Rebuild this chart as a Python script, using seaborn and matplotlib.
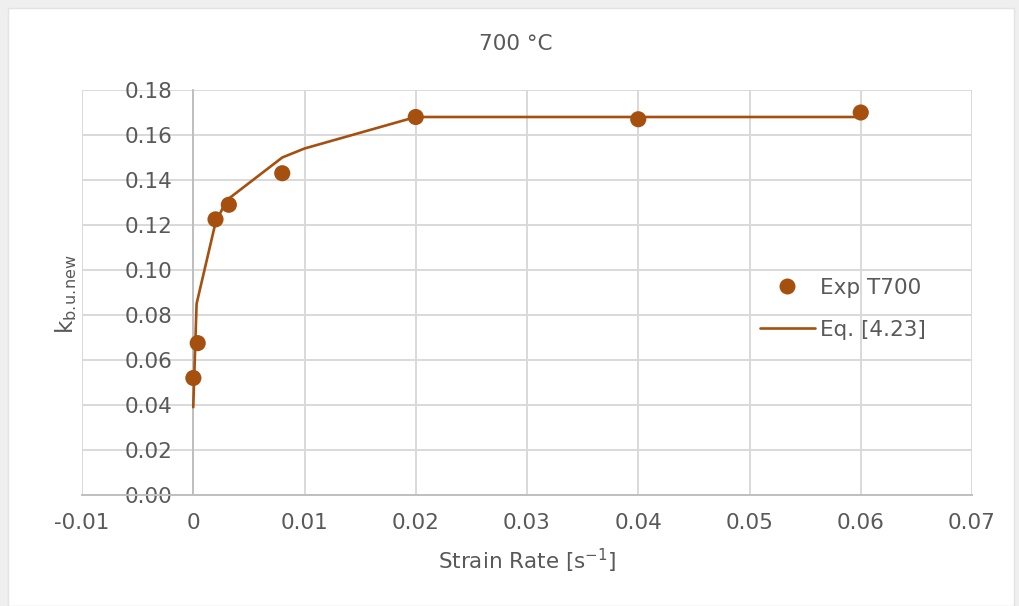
import matplotlib
matplotlib.use("Agg")
import matplotlib.pyplot as plt
from matplotlib.lines import Line2D
from matplotlib.patches import Rectangle
import seaborn as sns
import pandas as pd

# ---- data ----
exp_rate = [0.00001, 0.0004, 0.002, 0.0032, 0.008, 0.02, 0.04, 0.06]
exp_k = [0.052, 0.0675, 0.1225, 0.129, 0.143, 0.168, 0.167, 0.170]

eq_rate = [0.0, 0.0003, 0.002, 0.003, 0.008, 0.01, 0.02, 0.04, 0.06]
eq_k = [0.039, 0.085, 0.121, 0.131, 0.150, 0.154, 0.168, 0.168, 0.168]

x_ticks = [-0.01, 0, 0.01, 0.02, 0.03, 0.04, 0.05, 0.06, 0.07]
x_labels = ["-0.01", "0", "0.01", "0.02", "0.03", "0.04", "0.05", "0.06", "0.07"]
y_ticks = [0.00, 0.02, 0.04, 0.06, 0.08, 0.10, 0.12, 0.14, 0.16, 0.18]
y_labels = ["0.00", "0.02", "0.04", "0.06", "0.08", "0.10", "0.12", "0.14", "0.16", "0.18"]

title = "700 °C"
x_title = r"Strain Rate [s$^{\mathregular{-1}}$]"
y_title = r"k$_{\mathregular{b.\!u.\!new}}$"
legend_labels = ["Exp T700", "Eq. [4.23]"]

COLOR = "#A5500F"
TEXT = "#595959"
GRID = "#D9D9D9"
AXIS = "#BFBFBF"
FS = 15.5

sns.set_theme(style="white")
plt.rcParams["font.family"] = ["DejaVu Sans"]

W, H = 1020, 606
fig = plt.figure(figsize=(W / 100, H / 100), dpi=100)
fig.patch.set_facecolor("#EFEFEF")
fig.patches.append(Rectangle((8 / W, 0), (1014 - 8) / W, 1 - 8 / H,
                             transform=fig.transFigure, facecolor="white",
                             edgecolor="#E3E3E3", lw=1, zorder=-10))

ax = fig.add_axes([82 / W, 1 - 495 / H, (972 - 82) / W, (495 - 90) / H])
ax.set_facecolor("white")

df_exp = pd.DataFrame({"rate": exp_rate, "k": exp_k})
df_eq = pd.DataFrame({"rate": eq_rate, "k": eq_k})

sns.lineplot(data=df_eq, x="rate", y="k", ax=ax, color=COLOR, lw=1.9,
             sort=False, estimator=None, zorder=3)
sns.scatterplot(data=df_exp, x="rate", y="k", ax=ax, color=COLOR, s=135,
                edgecolor="none", linewidth=0, zorder=4)

ax.set_xlim(-0.01, 0.07)
ax.set_ylim(0, 0.18)
ax.set_xticks(x_ticks)
ax.set_xticklabels(x_labels)
ax.set_yticks(y_ticks)
ax.set_yticklabels(y_labels)
ax.grid(True, color=GRID, lw=1.4, zorder=0)
ax.set_axisbelow(True)

for s in ["top", "right"]:
    ax.spines[s].set_visible(False)
ax.spines["left"].set_position(("data", 0))
ax.spines["left"].set_color(AXIS)
ax.spines["left"].set_linewidth(1.4)
ax.spines["bottom"].set_color(AXIS)
ax.spines["bottom"].set_linewidth(1.4)

ax.tick_params(axis="both", length=0, labelsize=FS, labelcolor=TEXT)
ax.tick_params(axis="y", pad=15)
ax.tick_params(axis="x", pad=13)

ax.set_xlabel("")
ax.set_ylabel("")
fig.text(527 / W, 1 - 561 / H, x_title, ha="center", va="center",
         fontsize=FS, color=TEXT)
fig.text(66 / W, 1 - 294 / H, y_title, ha="center", va="center",
         rotation=90, fontsize=FS + 1, color=TEXT)
fig.text(516 / W, 1 - 44 / H, title, ha="center", va="center",
         fontsize=FS, color=TEXT)

handles = [
    Line2D([], [], color=COLOR, marker="o", ls="none", markersize=11.5,
           markeredgewidth=0),
    Line2D([], [], color=COLOR, lw=1.9),
]
leg = fig.legend(handles, legend_labels, loc="center left",
                 bbox_to_anchor=(760 / W, 1 - 309 / H), frameon=False,
                 fontsize=FS, labelcolor=TEXT, handlelength=2.55,
                 handletextpad=0.23, labelspacing=1.02, borderpad=0,
                 borderaxespad=0, numpoints=1)

fig.savefig("out.png", dpi=100, facecolor=fig.get_facecolor())
